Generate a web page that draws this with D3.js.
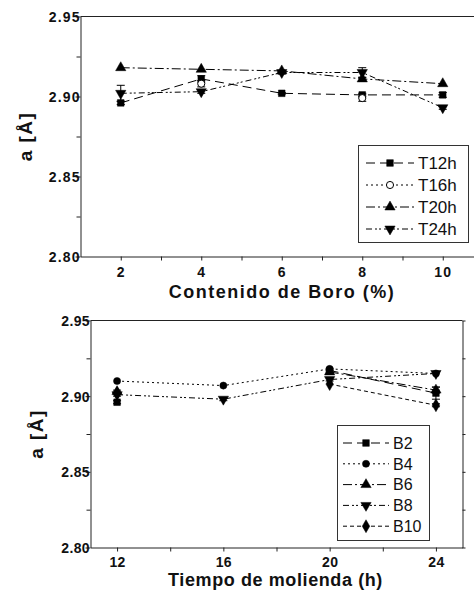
<!DOCTYPE html>
<html>
<head>
<meta charset="utf-8">
<script src="https://cdnjs.cloudflare.com/ajax/libs/d3/7.8.5/d3.min.js"></script>
<style>
  body { margin: 0; background: #fff; }
  svg { display: block; font-family: "Liberation Sans", Arial, sans-serif; }
</style>
</head>
<body>
<div id="chart"></div>
<script>
// ---- data: top panel, lattice parameter vs boron content ----
const boroX = [2, 4, 6, 8, 10]
const boroNames = ["T12h", "T16h", "T20h", "T24h"]
const t12 = [2.896, 2.911, 2.902, 2.901, 2.901]
const t16 = [null, 2.908, null, 2.899, null]
const t20 = [2.918, 2.917, 2.916, 2.911, 2.908]
const t24 = [2.902, 2.903, 2.915, 2.915, 2.893]
const t12err = [0.001, 0.002, 0.0005, 0.001, 0.0015]
const t16err = [0, 0.002, 0, 0.002, 0]
const t20err = [0, 0, 0, 0.001, 0]
const t24err = [0.005, 0.001, 0.001, 0.003, 0.001]
const boroTicks = [2, 4, 6, 8, 10]
const boroMinor = [3, 5, 7, 9]

// ---- data: bottom panel, lattice parameter vs milling time ----
const timeX = [12, 16, 20, 24]
const timeNames = ["B2", "B4", "B6", "B8", "B10"]
const b2 = [2.896, null, 2.917, 2.902]
const b4 = [2.910, 2.907, 2.918, 2.915]
const b6 = [2.903, null, 2.916, 2.904]
const b8 = [2.901, 2.898, 2.911, 2.915]
const b10 = [2.902, null, 2.908, 2.894]
const b2err = [0.001, 0, 0.001, 0.004]
const b4err = [0, 0, 0, 0]
const b6err = [0.001, 0, 0.001, 0.002]
const b8err = [0.001, 0.001, 0.001, 0]
const b10err = [0, 0, 0, 0.001]
const timeTicks = [12, 16, 20, 24]
const timeMinor = [14, 18, 22]

const aTicks = [2.80, 2.85, 2.90, 2.95]
const aMinor = [2.825, 2.875, 2.925]

// line styles
const DASH = {
  dash: "9,5",
  dot: "2,3",
  dashDot: "9,3,2,3",
  dashDotDot: "6,3,2,2,2,3",
  shortDash: "4,3"
}

const svg = d3.select("#chart").append("svg")
  .attr("width", 474)
  .attr("height", 595)

function symbolPath(type) {
  if (type === "square") return d3.symbol(d3.symbolSquare, 44)()
  if (type === "circle" || type === "open") return d3.symbol(d3.symbolCircle, 40)()
  if (type === "up" || type === "down") return d3.symbol(d3.symbolTriangle, 46)()
  if (type === "diamond") return d3.symbol(d3.symbolDiamond, 48)()
}

function drawMarker(sel, type, px, py) {
  sel.append("path")
    .attr("d", symbolPath(type))
    .attr("transform", `translate(${px},${py})` + (type === "down" ? " rotate(180)" : ""))
    .attr("fill", type === "open" ? "#fff" : "#000")
    .attr("stroke", "#000")
    .attr("stroke-width", type === "open" ? 1 : 0.5)
}

function panel(o) {
  const x = d3.scaleLinear().domain(o.xDomain).range(o.xRange)
  const y = d3.scaleLinear().domain([2.80, 2.95]).range(o.yRange)
  const g = svg.append("g").attr("color", "#222")
  const bottom = o.yRange[0], top = o.yRange[1]

  // top border
  g.append("line")
    .attr("x1", o.xRange[0]).attr("x2", o.xRange[1])
    .attr("y1", top).attr("y2", top)
    .attr("stroke", "#222")

  // x axis
  const xAxis = g.append("g")
    .attr("transform", `translate(0,${bottom})`)
    .call(d3.axisBottom(x).tickValues(o.xTicks).tickSize(4).tickSizeOuter(0).tickFormat(d3.format("d")))
  xAxis.selectAll(".tick text")
    .attr("dy", null)
    .attr("y", o.xTickY)
    .style("font-size", "14px")
    .style("font-weight", "bold")
    .style("letter-spacing", o.tickSpacing + "px")
    .attr("fill", "#111")
  g.append("g")
    .attr("transform", `translate(0,${bottom})`)
    .call(d3.axisBottom(x).tickValues(o.xMinor).tickSize(4).tickSizeOuter(0).tickFormat(""))
    .select(".domain").remove()

  // y axis
  const yAxis = g.append("g")
    .attr("transform", `translate(${o.xRange[0]},0)`)
    .call(d3.axisLeft(y).tickValues(aTicks).tickSize(5).tickSizeOuter(0).tickFormat(d3.format(".2f")))
  yAxis.selectAll(".tick text")
    .attr("x", -1 + o.tickSpacing)
    .attr("dy", "0.36em")
    .style("font-size", "14px")
    .style("font-weight", "bold")
    .style("letter-spacing", o.tickSpacing + "px")
    .attr("fill", "#111")
  g.append("g")
    .attr("transform", `translate(${o.xRange[0]},0)`)
    .call(d3.axisLeft(y).tickValues(aMinor).tickSize(4).tickSizeOuter(0).tickFormat(""))
    .select(".domain").remove()

  if (o.rightAxis) {
    g.append("g")
      .attr("transform", `translate(${o.xRange[1]},0)`)
      .call(d3.axisRight(y).tickValues(aTicks.concat(aMinor)).tickSize(3).tickSizeOuter(0).tickFormat(""))
  }

  // axis titles
  g.append("text")
    .attr("x", o.xLabelX).attr("y", o.xLabelY)
    .attr("text-anchor", "middle")
    .style("font-size", "18px")
    .style("font-weight", "bold")
    .style("letter-spacing", o.labelSpacing + "px")
    .attr("fill", "#111")
    .text(o.xLabel)
  g.append("text")
    .attr("transform", `translate(${o.yLabelX},${(top + bottom) / 2}) rotate(-90)`)
    .attr("text-anchor", "middle")
    .style("font-size", "19px")
    .style("font-weight", "bold")
    .style("letter-spacing", "1.5px")
    .attr("fill", "#111")
    .text("a [Å]")

  // series
  const line = d3.line()
    .defined(d => d.v !== null)
    .x(d => x(d.x))
    .y(d => y(d.v))

  o.series.forEach(s => {
    const pts = o.xs.map((xv, i) => ({ x: xv, v: s.values[i], e: s.errors[i] }))
    g.append("path")
      .datum(pts)
      .attr("fill", "none")
      .attr("stroke", "#000")
      .attr("stroke-width", 1)
      .attr("stroke-dasharray", DASH[s.dash])
      .attr("d", line)
  })

  o.series.forEach(s => {
    const pts = o.xs.map((xv, i) => ({ x: xv, v: s.values[i], e: s.errors[i] }))
      .filter(d => d.v !== null)
    pts.forEach(d => {
      if (d.e > 0) {
        const px = x(d.x)
        const eg = g.append("g").attr("stroke", "#000").attr("stroke-width", 1)
        eg.append("line").attr("x1", px).attr("x2", px).attr("y1", y(d.v - d.e)).attr("y2", y(d.v + d.e))
        eg.append("line").attr("x1", px - 4).attr("x2", px + 4).attr("y1", y(d.v - d.e)).attr("y2", y(d.v - d.e))
        eg.append("line").attr("x1", px - 4).attr("x2", px + 4).attr("y1", y(d.v + d.e)).attr("y2", y(d.v + d.e))
      }
      drawMarker(g, s.marker, x(d.x), y(d.v))
    })
  })

  // legend
  const L = o.legend
  g.append("rect")
    .attr("x", L.x).attr("y", L.y)
    .attr("width", L.w).attr("height", L.h)
    .attr("fill", "#fff")
    .attr("stroke", "#333")
    .attr("stroke-width", 1)
  o.series.forEach((s, i) => {
    const ry = L.y + L.first + i * L.step
    g.append("line")
      .attr("x1", L.lineX0).attr("x2", L.lineX1)
      .attr("y1", ry).attr("y2", ry)
      .attr("stroke", "#000")
      .attr("stroke-dasharray", DASH[s.dash])
    drawMarker(g, s.marker, (L.lineX0 + L.lineX1) / 2, ry)
    g.append("text")
      .attr("x", L.textX).attr("y", ry)
      .attr("dy", "0.36em")
      .style("font-size", L.font + "px")
      .attr("fill", "#111")
      .text(s.name)
  })
}

panel({
  xs: boroX,
  xDomain: [1, 11], xRange: [80.5, 483],
  yRange: [256.5, 16.5],
  xTicks: boroTicks, xMinor: boroMinor,
  xTickY: 20.5, tickSpacing: 1.2,
  xLabel: "Contenido de Boro (%)", xLabelX: 282, xLabelY: 297.5, labelSpacing: 1.5,
  yLabelX: 32,
  rightAxis: false,
  series: [
    { name: boroNames[0], values: t12, errors: t12err, marker: "square", dash: "dash" },
    { name: boroNames[1], values: t16, errors: t16err, marker: "open", dash: "dot" },
    { name: boroNames[2], values: t20, errors: t20err, marker: "up", dash: "dashDot" },
    { name: boroNames[3], values: t24, errors: t24err, marker: "down", dash: "dashDotDot" }
  ],
  legend: { x: 358.5, y: 145.5, w: 110, h: 97, first: 17.5, step: 22, lineX0: 366, lineX1: 414, textX: 418, font: 17 }
})

panel({
  xs: timeX,
  xDomain: [11, 25], xRange: [90.5, 462.5],
  yRange: [547.5, 320.5],
  xTicks: timeTicks, xMinor: timeMinor,
  xTickY: 19, tickSpacing: 0.3,
  xLabel: "Tiempo de molienda (h)", xLabelX: 275.5, xLabelY: 586, labelSpacing: 0.6,
  yLabelX: 43,
  rightAxis: true,
  series: [
    { name: timeNames[0], values: b2, errors: b2err, marker: "square", dash: "dash" },
    { name: timeNames[1], values: b4, errors: b4err, marker: "circle", dash: "dot" },
    { name: timeNames[2], values: b6, errors: b6err, marker: "up", dash: "dashDot" },
    { name: timeNames[3], values: b8, errors: b8err, marker: "down", dash: "dashDotDot" },
    { name: timeNames[4], values: b10, errors: b10err, marker: "diamond", dash: "shortDash" }
  ],
  legend: { x: 337.5, y: 425.5, w: 92, h: 115, first: 17.5, step: 20.8, lineX0: 343, lineX1: 389, textX: 393, font: 16 }
})
</script>
</body>
</html>
